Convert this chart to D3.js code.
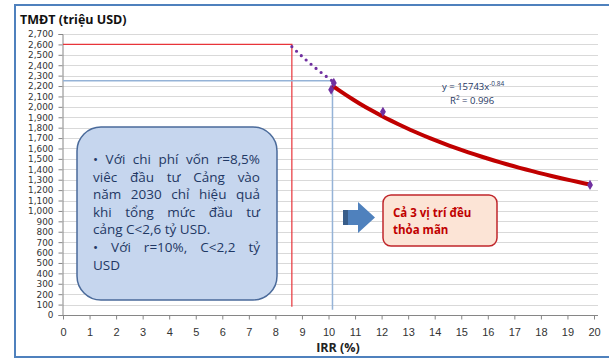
<!DOCTYPE html>
<html>
<head>
<meta charset="utf-8">
<script src="https://cdn.jsdelivr.net/npm/d3@7"></script>
<style>
  body { margin: 0; background: #fff; }
  svg { display: block; }
</style>
</head>
<body>
<div id="chart"></div>
<script>
// chart data
const irrPoints = [10.1, 10.2, 12.05, 19.85];
const tmdtPoints = [2165, 2230, 1952, 1250];
const fitCoef = 15743, fitExp = -0.84;
const drawnScale = 0.98;             // the hand drawn red curve sits a bit under the fit
const fitRange = [10.2, 19.85];      // solid trend
const fitBack = [8.62, 10.2];        // dotted backward part
const limitIRR = [8.62, 10.15];      // r=8,5% / r=10%
const limitTMDT = [2600, 2250];
const limitBottom = [80, 50];
const xTicks = d3.range(0, 21);
const yTicks = d3.range(0, 2701, 100);
const noteLines = [
  ['• Với chi phí vốn r=8,5%', true],
  ['viêc đầu tư Cảng vào', true],
  ['năm 2030 chỉ hiệu quả', true],
  ['khi tổng mức đầu tư', true],
  ['cảng C<2,6 tỷ USD.', false],
  ['• Với r=10%, C<2,2 tỷ', true],
  ['USD', false]
];
const resultLines = ['Cả 3 vị trí đều', 'thỏa mãn'];

const width = 609, height = 358;
const svg = d3.select('#chart').append('svg')
    .attr('width', width).attr('height', height)
    .style('font-family', '"Open Sans", sans-serif');

// outer frame
svg.append('path')
    .attr('d', 'M612,5 H15 V357 H612')
    .attr('fill', 'none').attr('stroke', '#4f81bd').attr('stroke-width', 2);

const x = d3.scaleLinear().domain([0, 20]).range([63, 594]);
const y = d3.scaleLinear().domain([0, 2700]).range([315, 34]);

// gridlines
svg.append('g').selectAll('line').data(yTicks.filter(d => d > 0)).join('line')
    .attr('x1', 63).attr('x2', 598)
    .attr('y1', d => Math.round(y(d)) + 0.5).attr('y2', d => Math.round(y(d)) + 0.5)
    .attr('stroke', '#d9d9d9');

// axes
const yAxis = svg.append('g').attr('transform', 'translate(62.5,0)')
    .call(d3.axisLeft(y).tickValues(yTicks).tickSize(4).tickPadding(5).tickFormat(d3.format(',')));
const xAxis = svg.append('g').attr('transform', `translate(0,${Math.round(y(0)) + 0.5})`)
    .call(d3.axisBottom(x).tickValues(xTicks).tickSize(4).tickPadding(9));
[xAxis, yAxis].forEach(a => {
    a.select('.domain').attr('stroke', '#868686');
    a.selectAll('.tick line').attr('stroke', '#868686');
    a.selectAll('text').attr('fill', '#333');
});
xAxis.selectAll('text').style('font-size', '11px');
yAxis.selectAll('text').style('font-size', '8.9px').style('font-family', '"DejaVu Sans", sans-serif');
xAxis.select('.domain').attr('d', `M63,0H598`);

// titles
svg.append('text').attr('x', 20).attr('y', 24).text('TMĐT (triệu USD)')
    .attr('font-weight', 'bold').attr('font-size', 12.5).attr('fill', '#111');
svg.append('text').attr('x', 338).attr('y', 352).attr('text-anchor', 'middle').text('IRR (%)')
    .attr('font-weight', 'bold').attr('font-size', 12.5).attr('fill', '#222');

// limit lines
const limitColors = ['#e8343a', '#95b3d7'];
limitIRR.forEach((v, i) => {
    svg.append('path')
        .attr('d', d3.line()([[x(0), y(limitTMDT[i])], [x(v), y(limitTMDT[i])], [x(v), y(limitBottom[i])]]))
        .attr('fill', 'none').attr('stroke', limitColors[i]).attr('stroke-width', i ? 1.5 : 1.2);
});

// trend line
const fitLine = k => d3.line().x(d => x(d)).y(d => y(k * fitCoef * Math.pow(d, fitExp)));
const samples = (a, b) => d3.range(0, 41).map(i => a + (b - a) * i / 40);
svg.append('path').attr('d', fitLine(1)(samples(...fitBack)))
    .attr('fill', 'none').attr('stroke', '#7030a0').attr('stroke-width', 3.2)
    .attr('stroke-linecap', 'round').attr('stroke-dasharray', '0,6.5');
svg.append('path').attr('d', fitLine(drawnScale)(samples(...fitRange)))
    .attr('fill', 'none').attr('stroke', '#c00000').attr('stroke-width', 4)
    .attr('stroke-linecap', 'round');

// data markers
svg.append('g').selectAll('path').data(irrPoints).join('path')
    .attr('transform', (d, i) => `translate(${x(d)},${y(tmdtPoints[i])})`)
    .attr('d', d3.symbol(d3.symbolDiamond, 30))
    .attr('fill', '#7030a0');

// equation
const eq = svg.append('text').attr('x', 442).attr('y', 90).attr('font-size', 9.5).attr('fill', '#1f3864');
eq.append('tspan').text('y = 15743x');
eq.append('tspan').text('-0.84').attr('font-size', 6.5).attr('dy', -4);
const r2 = svg.append('text').attr('x', 450).attr('y', 104).attr('font-size', 9.5).attr('fill', '#1f3864');
r2.append('tspan').text('R');
r2.append('tspan').text('2').attr('font-size', 6.5).attr('dy', -4);
r2.append('tspan').text(' = 0.996').attr('dy', 4);

// note box
svg.append('rect').attr('x', 77).attr('y', 127).attr('width', 200).attr('height', 173)
    .attr('rx', 24).attr('fill', '#c6d6ee').attr('stroke', '#4a6a9a').attr('stroke-width', 1.5);
const noteLeft = 93, noteRight = 260;
noteLines.forEach(([line, justify], i) => {
    const g = svg.append('text').attr('y', 164 + i * 17.6)
        .attr('font-size', 13.5).attr('fill', '#1f3864');
    if (!justify) { g.attr('x', noteLeft).text(line); return; }
    const words = line.split(' ');
    const spans = words.map(w => g.append('tspan').text(w));
    const widths = spans.map(t => t.node().getComputedTextLength());
    const gap = (noteRight - noteLeft - d3.sum(widths)) / (words.length - 1);
    let pos = noteLeft;
    spans.forEach((t, k) => { t.attr('x', pos); pos += widths[k] + gap; });
});

// arrow
svg.append('path').attr('d', 'M343,210 H358 V202 L375,217.5 L358,233 V225 H343 Z')
    .attr('fill', '#4f81bd');
svg.append('path').attr('d', 'M343,210 H348 V225 H343 Z').attr('fill', '#385d8a');

// result box
svg.append('rect').attr('x', 383).attr('y', 195).attr('width', 114).attr('height', 51)
    .attr('rx', 8).attr('fill', '#fce4d6').attr('stroke', '#c0262b').attr('stroke-width', 1.5);
resultLines.forEach((t, i) => {
    svg.append('text').attr('x', 393).attr('y', 217 + i * 16.5).text(t)
        .attr('font-size', 11.5).attr('font-weight', 'bold').attr('fill', '#c00000');
});
</script>
</body>
</html>
